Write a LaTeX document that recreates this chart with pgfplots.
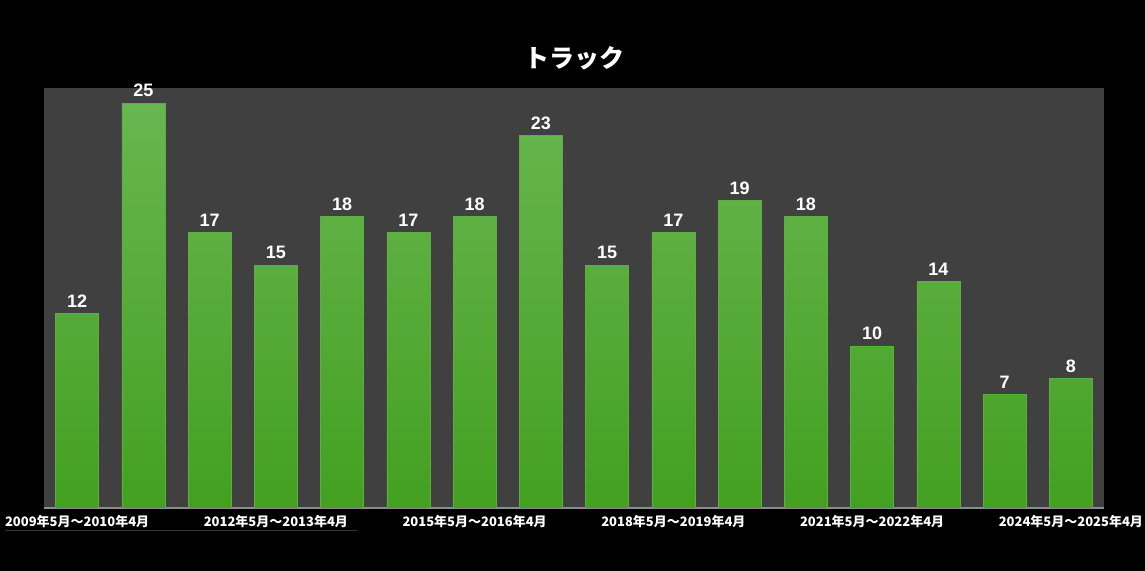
\documentclass[border=0pt]{standalone}
\usepackage{fontspec}
\setmainfont{Liberation Sans}
\newfontfamily\jp{Noto Sans CJK JP}
\usepackage{pgfplots}
\pgfplotsset{compat=1.18}
\definecolor{plotbg}{HTML}{404040}
\definecolor{bartop}{HTML}{69B650}
\definecolor{barbot}{HTML}{43A020}
\begin{document}
\begin{tikzpicture}[x=1pt,y=1pt]
\useasboundingbox (0,0) rectangle (572.5,285.5);
\fill[black] (0,0) rectangle (572.5,285.5);
\draw[draw=black!80!white,line width=0.4pt] (2.5,20.5) -- (178.5,20.5);
\begin{axis}[
  at={(22pt,31.5pt)}, anchor=south west,
  scale only axis, width=530pt, height=210pt,
  xmin=-0.5, xmax=15.5, ymin=0, ymax=25.93,
  axis background/.style={fill=plotbg},
  axis line style={draw=none},
  axis x line*=bottom,
  x axis line style={draw=black!45!white, line width=0.6pt},
  ymajorticks=false,
  xtick={0,3,6,9,12,15},
  xticklabels={2009年5月～2010年4月,2012年5月～2013年4月,2015年5月～2016年4月,2018年5月～2019年4月,2021年5月～2022年4月,2024年5月～2025年4月},
  xticklabel style={font=\jp\bfseries\fontsize{6.5}{8}\selectfont, text=white, yshift=0pt},
  major tick length=0pt,
  ybar, bar width=21.5pt,
  nodes near coords={\pgfmathprintnumber[assume math mode=true]{\pgfplotspointmeta}},
  every node near coord/.append style={font=\bfseries\fontsize{9}{10}\selectfont, text=white, yshift=-0.5pt},
  title={\jp\bfseries トラック},
  title style={font=\fontsize{12.5}{14}\selectfont, text=white, at={(0.5,1)}, yshift=-0.5pt},
]
\addplot[draw=bartop!70!barbot, line width=0.3pt, top color=bartop, bottom color=barbot] coordinates {
(0,12) (1,25) (2,17) (3,15) (4,18) (5,17) (6,18) (7,23) (8,15) (9,17) (10,19) (11,18) (12,10) (13,14) (14,7) (15,8)};
\end{axis}
\end{tikzpicture}
\end{document}
